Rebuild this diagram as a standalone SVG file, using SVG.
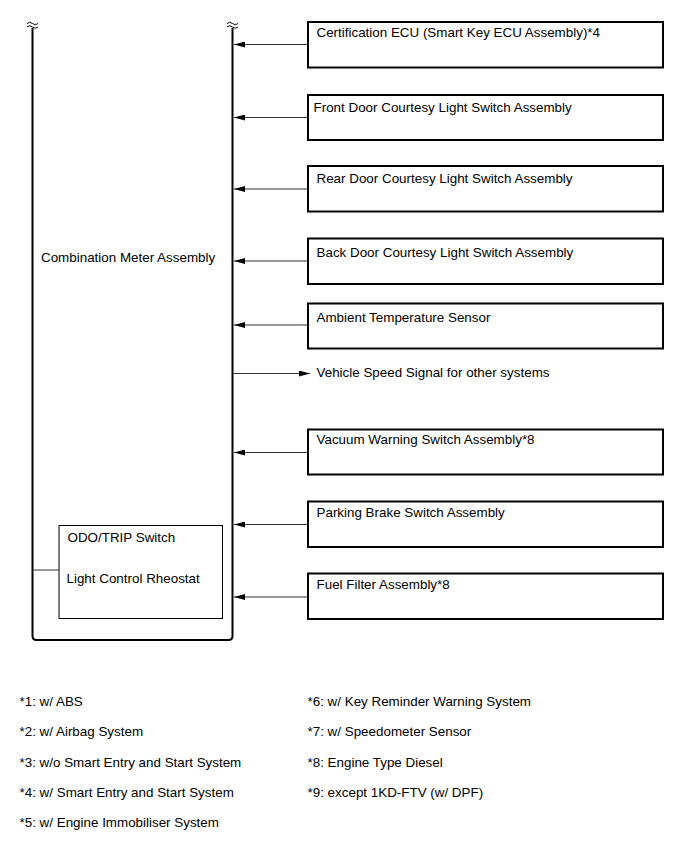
<svg xmlns="http://www.w3.org/2000/svg" width="689" height="853" viewBox="0 0 689 853">
<style>
text{font-family:"Liberation Sans",Arial,sans-serif;font-size:13.4px;fill:#000}
.box{fill:#fff;stroke:#000;stroke-width:2}
.odo{fill:#fff;stroke:#000;stroke-width:1}
.meter{fill:none;stroke:#000;stroke-width:2}
.conn{stroke:#333;stroke-width:1;fill:none}
.brk{fill:none;stroke:#000;stroke-width:1}
</style>
<defs>
<marker id="ah" viewBox="0 0 11 6" refX="11" refY="3" markerWidth="11" markerHeight="6" markerUnits="userSpaceOnUse" orient="auto">
<path d="M0,0 L11,3 L0,6 Z" fill="#000"/>
</marker>
</defs>
<rect width="689" height="853" fill="#fff"/>
<g id="meter">
<path class="meter" d="M32.5,28 V636 Q32.5,640 36.5,640 H228.5 Q232.5,640 232.5,636 V28"/>
<path class="brk" d="M27,23.5 q2.5,-2.5 5.5,0 t5.5,0 M27,27 q2.5,-2.5 5.5,0 t5.5,0"/>
<path class="brk" d="M227,23.5 q2.5,-2.5 5.5,0 t5.5,0 M227,27 q2.5,-2.5 5.5,0 t5.5,0"/>
<text x="41" y="262">Combination Meter Assembly</text>
</g>
<g id="odo">
<rect class="odo" x="59" y="525.5" width="163.5" height="93"/>
<text x="67.5" y="542">ODO/TRIP Switch</text>
<text x="66.5" y="583">Light Control Rheostat</text>
</g>
<g id="n1"><rect class="box" x="308" y="22" width="355" height="45.5"/><text x="316.5" y="37">Certification ECU (Smart Key ECU Assembly)*4</text></g>
<g id="n2"><rect class="box" x="308" y="95" width="355" height="45"/><text x="313.5" y="111.5">Front Door Courtesy Light Switch Assembly</text></g>
<g id="n3"><rect class="box" x="308" y="166" width="355" height="45.5"/><text x="316.5" y="182.5">Rear Door Courtesy Light Switch Assembly</text></g>
<g id="n4"><rect class="box" x="308" y="238.5" width="355" height="45.5"/><text x="316.5" y="256.5">Back Door Courtesy Light Switch Assembly</text></g>
<g id="n5"><rect class="box" x="308" y="303.5" width="355" height="45"/><text x="316.5" y="321.5">Ambient Temperature Sensor</text></g>
<g id="n6"><text x="316.5" y="377">Vehicle Speed Signal for other systems</text></g>
<g id="n7"><rect class="box" x="308" y="429.5" width="355" height="45"/><text x="316.5" y="443.5">Vacuum Warning Switch Assembly*8</text></g>
<g id="n8"><rect class="box" x="308" y="501.5" width="355" height="45.5"/><text x="316.5" y="517">Parking Brake Switch Assembly</text></g>
<g id="n9"><rect class="box" x="308" y="573.5" width="355" height="45.5"/><text x="316.5" y="588.5">Fuel Filter Assembly*8</text></g>
<g id="connectors">
<line class="conn" x1="307" y1="44.5" x2="234" y2="44.5" marker-end="url(#ah)"/>
<line class="conn" x1="307" y1="117.5" x2="234" y2="117.5" marker-end="url(#ah)"/>
<line class="conn" x1="307" y1="189" x2="234" y2="189" marker-end="url(#ah)"/>
<line class="conn" x1="307" y1="261" x2="234" y2="261" marker-end="url(#ah)"/>
<line class="conn" x1="307" y1="325" x2="234" y2="325" marker-end="url(#ah)"/>
<line class="conn" x1="233.5" y1="373.5" x2="310" y2="373.5" marker-end="url(#ah)"/>
<line class="conn" x1="307" y1="452.5" x2="234" y2="452.5" marker-end="url(#ah)"/>
<line class="conn" x1="307" y1="524.5" x2="234" y2="524.5" marker-end="url(#ah)"/>
<line class="conn" x1="307" y1="597" x2="234" y2="597" marker-end="url(#ah)"/>
<line class="conn" x1="33.5" y1="570" x2="59" y2="570"/>
</g>
<g id="notes">
<text x="19.5" y="706">*1: w/ ABS</text>
<text x="19.5" y="736">*2: w/ Airbag System</text>
<text x="19.5" y="766.5">*3: w/o Smart Entry and Start System</text>
<text x="19.5" y="797">*4: w/ Smart Entry and Start System</text>
<text x="19.5" y="827">*5: w/ Engine Immobiliser System</text>
<text x="307.5" y="706">*6: w/ Key Reminder Warning System</text>
<text x="307.5" y="736">*7: w/ Speedometer Sensor</text>
<text x="307.5" y="766.5">*8: Engine Type Diesel</text>
<text x="307.5" y="797">*9: except 1KD-FTV (w/ DPF)</text>
</g>
</svg>
